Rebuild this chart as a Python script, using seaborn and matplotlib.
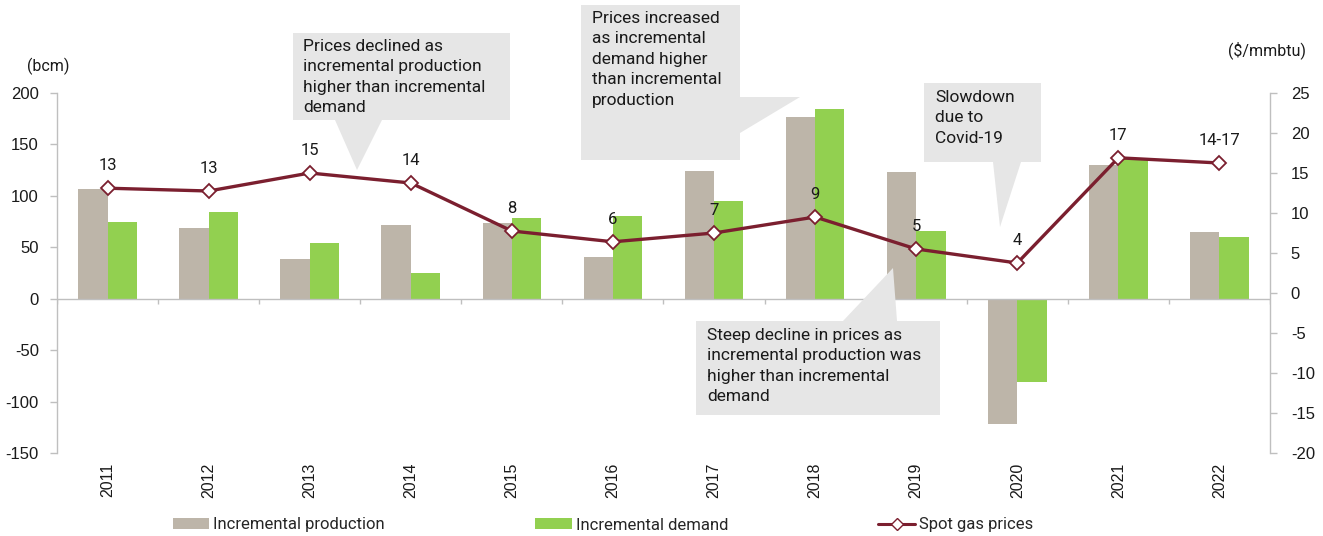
import numpy as np
import pandas as pd
import matplotlib
matplotlib.use("Agg")
import matplotlib.pyplot as plt
from matplotlib.patches import Patch, Polygon
from matplotlib.lines import Line2D
import seaborn as sns

# ---------------- data ----------------
years = ["2011", "2012", "2013", "2014", "2015", "2016",
         "2017", "2018", "2019", "2020", "2021", "2022"]
production = [107, 69, 39, 72, 74, 41, 124, 177, 123, -122, 130, 65]
demand = [75, 84, 54, 25, 78, 80, 95, 184, 66, -81, 137, 60]
prices = [13.1, 12.75, 15.0, 13.75, 7.75, 6.4, 7.5, 9.5, 5.5, 3.75, 16.9, 16.25]
price_labels = ["13", "13", "15", "14", "8", "6", "7", "9", "5", "4", "17", "14-17"]
series_names = ["Incremental production", "Incremental demand", "Spot gas prices"]
left_ticks = [-150, -100, -50, 0, 50, 100, 150, 200]
right_ticks = [-20, -15, -10, -5, 0, 5, 10, 15, 20, 25]
callout_texts = [
    "Prices declined as\nincremental production\nhigher than incremental\ndemand",
    "Prices increased\nas incremental\ndemand higher\nthan incremental\nproduction",
    "Slowdown\ndue to\nCovid-19",
    "Steep decline in prices as\nincremental production was\nhigher than incremental\ndemand",
]

# ---------------- style ----------------
C_PROD = "#BDB5A9"
C_DEM = "#92D050"
C_LINE = "#7B1F2F"
C_AXIS = "#BFBFBF"
C_BOX = "#E6E6E6"
TXT = "#1a1a1a"

sns.set_style("white")
plt.rcParams["font.family"] = ["Liberation Sans", "DejaVu Sans"]
plt.rcParams["axes.unicode_minus"] = False
CALL_FONT = ["Roboto", "DejaVu Sans"]

W, H = 1323, 536
fig = plt.figure(figsize=(W / 100, H / 100), dpi=100)

def fx(px):
    return px / W

def fy(py):
    return 1 - py / H

ax = fig.add_axes([fx(57), fy(453), fx(1270) - fx(57), fy(93) - fy(453)])

df = pd.DataFrame({
    "year": years * 2,
    "value": production + demand,
    "series": [series_names[0]] * len(years) + [series_names[1]] * len(years),
})
sns.barplot(data=df, x="year", y="value", hue="series", order=years,
            hue_order=series_names[:2], palette=[C_PROD, C_DEM],
            width=0.58, gap=0, saturation=1, legend=False, ax=ax, linewidth=0)

ax.set_xlim(-0.5, len(years) - 0.5)
ax.set_ylim(-150, 200)
ax.set_yticks(left_ticks)
ax.set_xlabel("")
ax.set_ylabel("")
ax.tick_params(axis="x", length=0, pad=7, labelsize=11.5, labelcolor=TXT)
ax.set_xticks(range(len(years)))
ax.set_xticklabels(years, rotation=90)
ax.tick_params(axis="y", length=5, width=1, color=C_AXIS, labelsize=12,
               labelcolor=TXT, pad=8, left=True)
for s in ["top", "right", "bottom"]:
    ax.spines[s].set_visible(False)
ax.spines["left"].set_color(C_AXIS)
ax.spines["left"].set_linewidth(1)

# zero line with category boundary ticks
ax.axhline(0, color=C_AXIS, lw=1, zorder=3)
ax.vlines(np.arange(len(years) + 1) - 0.5, -5, 0, color=C_AXIS, lw=1, zorder=3)

# ---------------- price line ----------------
ax2 = ax.twinx()
xi = np.arange(len(years))
sns.lineplot(x=xi, y=prices, ax=ax2, color=C_LINE, lw=2.4, marker="D",
             markersize=7.5, markerfacecolor="white", markeredgecolor=C_LINE,
             markeredgewidth=1.3, zorder=5)
ax2.set_ylim(-20, 25)
ax2.set_yticks(right_ticks)
ax2.tick_params(axis="y", length=5, width=1, color=C_AXIS, labelsize=12,
                labelcolor=TXT, pad=10, right=True)
for s in ["top", "left", "bottom"]:
    ax2.spines[s].set_visible(False)
ax2.spines["right"].set_color(C_AXIS)
ax2.spines["right"].set_linewidth(1)
ax2.set_xlim(-0.5, len(years) - 0.5)

for x, p, lab in zip(xi, prices, price_labels):
    ax2.annotate(lab, (x, p), xytext=(0, 11), textcoords="offset points",
                 ha="center", va="bottom", fontsize=12, color=TXT,
                 family=CALL_FONT)

# axis unit labels
fig.text(fx(48), fy(66), "(bcm)", ha="center", va="center", fontsize=11.5,
         color=TXT, family=CALL_FONT)
fig.text(fx(1267), fy(50), "($/mmbtu)", ha="center", va="center", fontsize=11.5,
         color=TXT, family=CALL_FONT)

# ---------------- callouts ----------------
shapes = [
    [(293, 33), (510, 33), (510, 120), (382, 120), (357, 170), (335, 120), (293, 120)],
    [(581, 5), (740, 5), (740, 97), (800, 97), (740, 133), (740, 160), (581, 160)],
    [(924, 83), (1041, 83), (1041, 162), (1021, 162), (1000, 227), (993, 162), (924, 162)],
    [(696, 321), (843, 321), (893, 268), (897, 321), (940, 321), (940, 415), (696, 415)],
]
text_pos = [(303, 39), (592, 11), (935, 90), (707, 328)]
for shp, txt, (tx, ty) in zip(shapes, callout_texts, text_pos):
    poly = Polygon([(fx(a), fy(b)) for a, b in shp], closed=True,
                   transform=fig.transFigure, facecolor=C_BOX, edgecolor="none",
                   zorder=10)
    fig.add_artist(poly)
    fig.text(fx(tx), fy(ty), txt, ha="left", va="top", fontsize=12.5,
             color=TXT, family=CALL_FONT, linespacing=1.45, zorder=11)

# ---------------- legend ----------------
handles = [
    Patch(facecolor=C_PROD, edgecolor="none"),
    Patch(facecolor=C_DEM, edgecolor="none"),
    Line2D([0], [0], color=C_LINE, lw=2.2, marker="D", markersize=6,
           markerfacecolor="white", markeredgecolor=C_LINE),
]
fig.legend(handles, series_names, loc="center", bbox_to_anchor=(fx(603), fy(525)),
           ncol=3, frameon=False, handlelength=2.2, handleheight=0.6,
           handletextpad=0.25, columnspacing=9.0,
           prop={"family": CALL_FONT, "size": 12})

fig.savefig("out.png", dpi=100)
